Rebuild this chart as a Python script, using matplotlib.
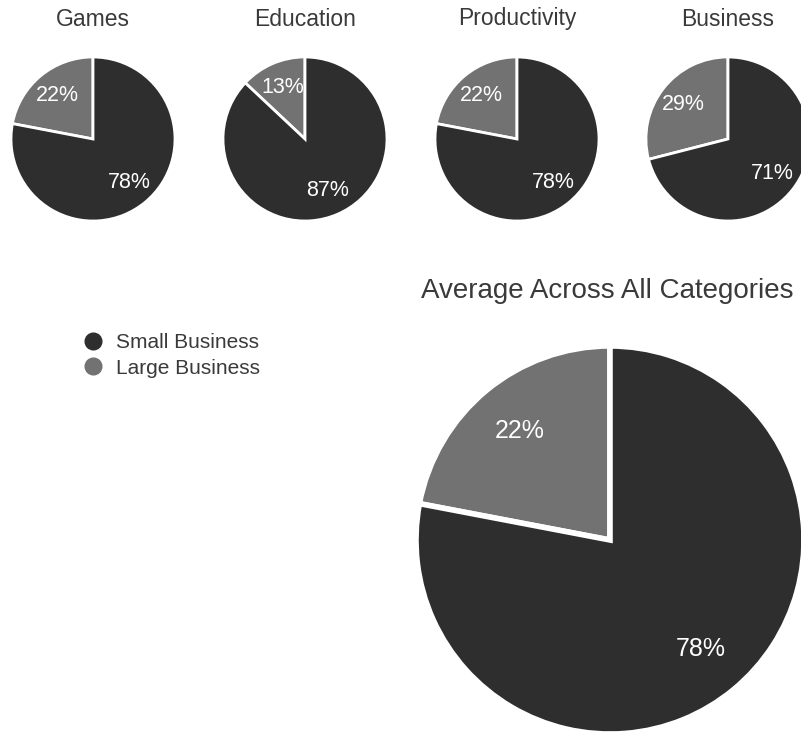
import matplotlib.pyplot as plt
from matplotlib.lines import Line2D

plt.rcParams['font.family'] = ['Liberation Sans', 'DejaVu Sans']

categories = ['Games', 'Education', 'Productivity', 'Business']
small_biz = [78, 87, 78, 71]
large_biz = [22, 13, 22, 29]
avg_title = 'Average Across All Categories'
avg_small = 78
avg_large = 22
legend_labels = ['Small Business', 'Large Business']

dark = '#2e2e2e'
mid = '#727272'

W, H = 801, 738
fig = plt.figure(figsize=(W / 100, H / 100), dpi=100)
ax = fig.add_axes([0, 0, 1, 1])

centers_x = [93, 305, 517, 728]
cy = H - 139
r = 82

for name, cx, s, l in zip(categories, centers_x, small_biz, large_biz):
    ax.pie([l, s], colors=[mid, dark], startangle=90, counterclock=True,
           explode=[0.065, 0], center=(cx, cy), radius=r,
           autopct='%d%%', pctdistance=0.69,
           wedgeprops=dict(edgecolor='white', linewidth=2),
           textprops=dict(color='white', fontsize=15.5))
    ax.text(cx, H - 19, name, ha='center', va='center', fontsize=16.5, color='#3a3a3a')

# big average pie
bcx, bcy, br = 610, H - 540, 194
ax.pie([avg_large, avg_small], colors=[mid, dark], startangle=90, counterclock=True,
       explode=[0.05, 0], center=(bcx, bcy), radius=br,
       autopct='%d%%', pctdistance=0.73,
       wedgeprops=dict(edgecolor='white', linewidth=4),
       textprops=dict(color='white', fontsize=18))
ax.text(607, H - 291, avg_title, ha='center', va='center', fontsize=20, color='#3a3a3a')

handles = [Line2D([], [], marker='o', linestyle='none', markersize=12, color=c)
           for c in [dark, mid]]
ax.legend(handles, legend_labels, loc='upper left', bbox_to_anchor=(64 / W, 1 - 325 / H),
          frameon=False, fontsize=15, handletextpad=0.1, labelspacing=0.3,
          borderaxespad=0, labelcolor='#3a3a3a')

ax.set_xlim(0, W)
ax.set_ylim(0, H)
ax.set_aspect('equal')
ax.axis('off')

fig.savefig('out.png', dpi=100)
